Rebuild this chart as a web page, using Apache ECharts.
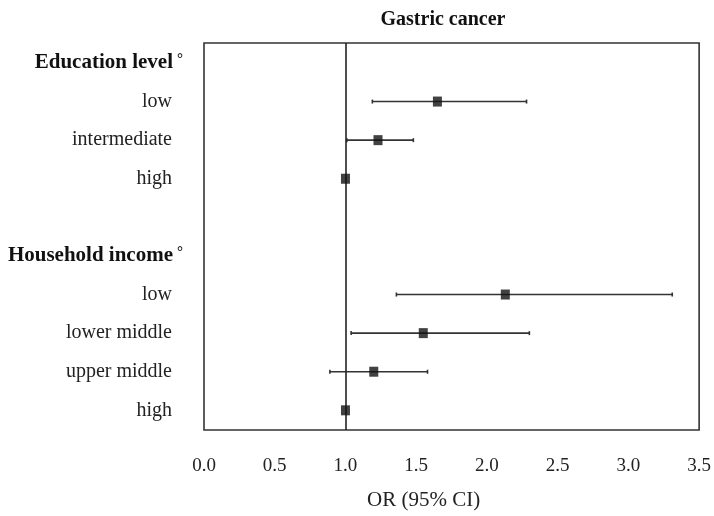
<!DOCTYPE html>
<html>
<head>
<meta charset="utf-8">
<script src="https://cdn.jsdelivr.net/npm/echarts@6/dist/echarts.min.js"></script>
<style>html,body{margin:0;padding:0;background:#fff}#c{width:714px;height:516px}</style>
</head>
<body>
<div id="c"></div>
<script>
// Row labels (row index -> text)
var headerRows = [0, 5];
var headerLabels = ['Education level', 'Household income'];
var itemRows = [1, 2, 3, 6, 7, 8, 9];
var itemLabels = ['low', 'intermediate', 'high', 'low', 'lower middle', 'upper middle', 'high'];
// Odds ratios and 95% CI
var orValues = [1.65, 1.23, 1.00, 2.13, 1.55, 1.20, 1.00];
var ciLower = [1.19, 1.01, null, 1.36, 1.04, 0.89, null];
var ciUpper = [2.28, 1.48, null, 3.31, 2.30, 1.58, null];
var xTicks = [0, 0.5, 1, 1.5, 2, 2.5, 3, 3.5];

var FONT = '"Liberation Serif", "DejaVu Serif", serif';
var chart = echarts.init(document.getElementById('c'), null, {renderer: 'canvas'});

var ciData = [];
var pointData = [];
for (var i = 0; i < itemRows.length; i++) {
  pointData.push([orValues[i], itemRows[i]]);
  if (ciLower[i] != null) ciData.push([ciLower[i], ciUpper[i], itemRows[i]]);
}
function findLabel(rows, labels, v) {
  for (var k = 0; k < rows.length; k++) if (Math.abs(rows[k] - v) < 1e-6) return labels[k];
  return '';
}

var option = {
  animation: false,
  backgroundColor: '#fff',
  title: {
    text: 'Gastric cancer',
    left: 438, top: 5, textAlign: 'center',
    textStyle: {fontFamily: FONT, fontSize: 20, fontWeight: 'bold', color: '#111'}
  },
  grid: {left: 204, right: 14, top: 43, bottom: 83, show: true, borderColor: '#333', borderWidth: 1.6, containLabel: false},
  xAxis: {
    type: 'value', min: 0, max: 3.5, interval: 0.5,
    axisLine: {show: false}, axisTick: {show: false}, splitLine: {show: false},
    axisLabel: {margin: 27, fontFamily: FONT, fontSize: 19, color: '#222', formatter: function (v) { return v.toFixed(1); }},
    name: 'OR (95% CI)', nameLocation: 'middle', nameGap: 60,
    nameTextStyle: {fontFamily: FONT, fontSize: 21, color: '#222', padding: [0, 56, 0, 0]}
  },
  yAxis: [
    {
      type: 'value', inverse: true, min: -0.517, max: 9.51, position: 'left',
      axisLine: {show: false}, axisTick: {show: false}, splitLine: {show: false},
      axisLabel: {
        customValues: headerRows, margin: 21, color: '#111',
        formatter: function (v) { return '{h|' + findLabel(headerRows, headerLabels, v) + '}{d|°}'; },
        rich: {
          h: {fontFamily: FONT, fontSize: 21, fontWeight: 'bold', color: '#111'},
          d: {fontFamily: FONT, fontSize: 15, fontWeight: 'bold', color: '#111', padding: [0, 0, 8, 4]}
        }
      }
    },
    {
      type: 'value', inverse: true, min: -0.517, max: 9.51, position: 'left',
      axisLine: {show: false}, axisTick: {show: false}, splitLine: {show: false},
      axisLabel: {customValues: itemRows, margin: 32, fontFamily: FONT, fontSize: 20, color: '#222', padding: [5, 0, 0, 0],
        formatter: function (v) { return findLabel(itemRows, itemLabels, v); }}
    }
  ],
  series: [
    {
      type: 'custom', yAxisIndex: 0, data: ciData, silent: true,
      renderItem: function (params, api) {
        var a = api.coord([api.value(0), api.value(2)]);
        var b = api.coord([api.value(1), api.value(2)]);
        var st = {stroke: '#333', lineWidth: 1.6};
        return {type: 'group', children: [
          {type: 'line', shape: {x1: a[0], y1: a[1], x2: b[0], y2: b[1]}, style: st},
          {type: 'line', shape: {x1: a[0], y1: a[1] - 2, x2: a[0], y2: a[1] + 2}, style: st},
          {type: 'line', shape: {x1: b[0], y1: b[1] - 2, x2: b[0], y2: b[1] + 2}, style: st}
        ]};
      },
      markLine: {
        silent: true, symbol: 'none', label: {show: false},
        lineStyle: {color: '#222', width: 1.6, type: 'solid'},
        data: [{xAxis: 1}]
      }
    },
    {
      type: 'scatter', yAxisIndex: 0, data: pointData, symbol: 'rect', symbolSize: [9, 10],
      itemStyle: {color: '#111'}, silent: true, z: 5
    }
  ]
};
chart.setOption(option);
</script>
</body>
</html>
